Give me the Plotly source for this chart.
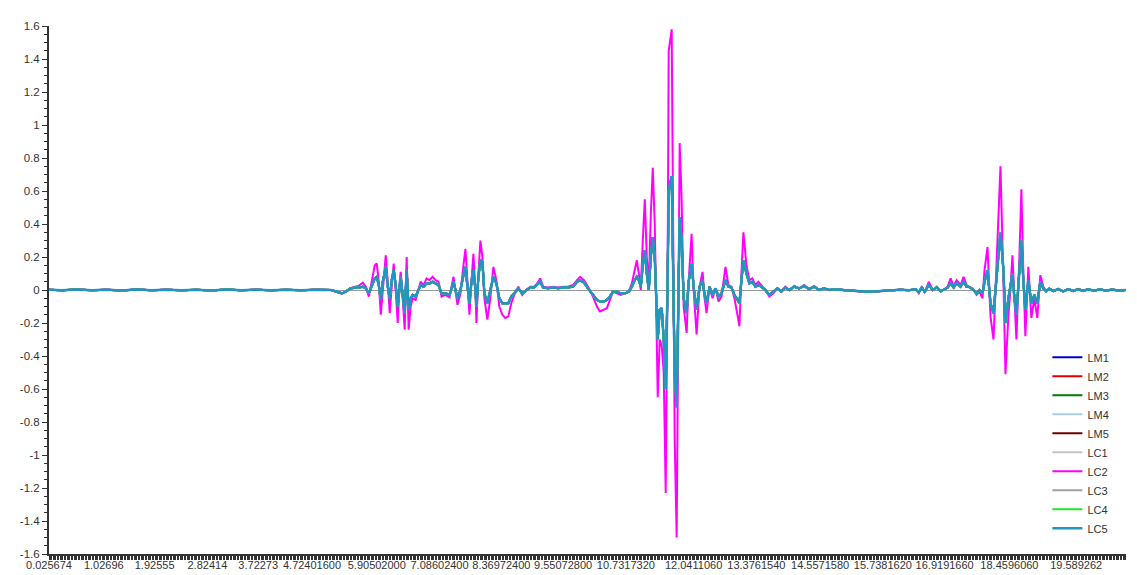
import plotly.graph_objects as go

# ---- data ----
# point position along the category axis (point number)
point = [0, 13, 28, 43, 58, 73, 88, 103, 118, 133, 148, 163, 178, 193, 208, 223, 238, 253, 268, 283,
         290, 294, 298, 302, 307, 311, 315, 318, 321, 324, 327, 329, 331, 333, 335, 338, 340, 342, 344, 346,
         348, 350, 352, 353, 355, 357, 359, 361, 363, 365, 368, 370, 373, 376, 379, 382, 385, 388, 391, 394,
         398, 402, 406, 410, 413, 416, 418, 420, 422, 424, 426, 428, 429, 431, 433, 435, 437, 440, 443, 446,
         449, 452, 455, 458, 461, 464, 467, 471, 475, 479, 483, 487, 490, 493, 496, 501, 506, 511, 516, 521,
         526, 530, 533, 537, 541, 546, 550, 553, 557, 560, 563, 566, 570, 574, 578, 582, 585, 588, 590, 592,
         594, 596, 598, 600, 602, 604, 606, 608, 610, 611, 613, 615, 617, 619, 621, 622, 625, 627, 628, 630,
         632, 633, 635, 637, 640, 642, 645, 647, 650, 653, 656, 658, 660, 663, 666, 669, 672, 675, 679, 682,
         685, 688, 691, 693, 695, 697, 700, 703, 706, 709, 712, 715, 719, 723, 727, 731, 735, 739, 743, 748,
         753, 758, 763, 768, 773, 778, 783, 791, 799, 807, 815, 823, 831, 839, 847, 855, 863, 870, 873, 876,
         879, 883, 887, 891, 895, 899, 902, 905, 908, 911, 915, 918, 921, 923, 927, 931, 934, 937, 939, 942,
         945, 948, 951, 953, 955, 958, 960, 963, 965, 967, 969, 971, 974, 976, 978, 980, 983, 986, 989, 992,
         995, 998, 1001, 1004, 1008, 1013, 1018, 1023, 1028, 1033, 1038, 1043, 1049, 1055, 1061, 1067, 1073, 1081]

LC2_values = [0.003, -0.003, 0.004, -0.002, 0.003, -0.003, 0.004, -0.002, 0.003, -0.003, 0.002, -0.003, 0.003, -0.002, 0.003, -0.003, 0.002, -0.002, 0.003, 0.0,
              -0.015, -0.022, -0.012, 0.01, 0.02, 0.025, 0.045, 0.02, -0.04, 0.05, 0.15, 0.16, 0.05, -0.15, 0.0, 0.21, 0.05, -0.14, 0.02, 0.16,
              0.0, -0.2, 0.05, 0.11, -0.05, -0.24, 0.2, -0.24, -0.1, -0.05, -0.06, -0.02, 0.05, 0.03, 0.07, 0.06, 0.08, 0.06, 0.05, -0.04,
              -0.03, -0.045, 0.08, -0.09, -0.02, 0.15, 0.25, 0.05, -0.15, 0.05, 0.22, 0.0, -0.2, 0.1, 0.3, 0.2, -0.05, -0.18, -0.05, 0.14,
              0.06, -0.1, -0.15, -0.17, -0.16, -0.08, -0.03, 0.02, -0.03, 0.0, 0.02, 0.02, 0.04, 0.07, 0.02, 0.015, 0.02, 0.015, 0.02, 0.02,
              0.03, 0.06, 0.08, 0.06, 0.02, -0.04, -0.1, -0.13, -0.12, -0.11, -0.06, -0.01, -0.02, -0.03, -0.02, -0.01, 0.04, 0.12, 0.18, 0.1,
              0.0, 0.3, 0.55, 0.2, 0.02, 0.45, 0.74, 0.4, -0.3, -0.65, -0.3, -0.34, -0.5, -1.23, 0.2, 1.45, 1.58, 0.1, -0.9, -1.5,
              0.0, 0.89, 0.55, -0.1, -0.26, 0.05, 0.34, 0.0, -0.27, 0.02, 0.11, -0.05, -0.14, 0.02, -0.05, 0.01, -0.07, -0.04, 0.14, 0.03,
              0.02, -0.05, -0.15, -0.22, 0.1, 0.35, 0.15, 0.06, 0.07, 0.03, 0.05, 0.03, 0.0, -0.04, -0.02, 0.01, -0.01, 0.02, 0.0, 0.025,
              0.01, 0.03, 0.005, 0.025, 0.0, 0.01, 0.0, 0.005, -0.002, -0.005, -0.01, -0.012, -0.01, -0.005, 0.0, 0.003, -0.002, 0.005, -0.02, 0.02,
              -0.015, 0.05, 0.0, 0.02, -0.01, 0.01, 0.02, 0.07, 0.02, 0.06, 0.03, 0.08, 0.03, 0.02, 0.01, -0.03, -0.01, -0.05, 0.12, 0.26,
              -0.16, -0.3, 0.12, 0.4, 0.75, 0.05, -0.51, -0.15, 0.0, 0.21, -0.1, -0.3, 0.2, 0.61, 0.1, -0.28, 0.14, -0.17, -0.05, -0.17,
              0.09, 0.02, -0.01, 0.01, -0.008, 0.008, -0.01, 0.006, -0.008, 0.006, -0.006, 0.005, -0.006, 0.005, -0.005, 0.004, -0.004, 0.0]

LC5_values = [0.002, -0.002, 0.003, -0.002, 0.002, -0.003, 0.003, -0.002, 0.002, -0.002, 0.002, -0.003, 0.003, -0.002, 0.002, -0.002, 0.002, -0.002, 0.002, 0.0,
              -0.012, -0.02, -0.01, 0.008, 0.015, 0.015, 0.02, 0.01, -0.02, 0.03, 0.07, 0.08, 0.03, -0.06, 0.05, 0.14, 0.02, -0.05, 0.06, 0.12,
              0.03, -0.1, 0.04, 0.08, -0.03, -0.14, 0.12, -0.12, -0.05, -0.03, -0.04, -0.01, 0.03, 0.02, 0.04, 0.04, 0.05, 0.04, 0.03, -0.02,
              -0.02, -0.03, 0.05, -0.05, 0.0, 0.09, 0.14, 0.02, -0.08, 0.05, 0.12, 0.0, -0.1, 0.08, 0.18, 0.17, -0.02, -0.08, 0.0, 0.08,
              0.04, -0.05, -0.08, -0.08, -0.08, -0.04, -0.02, 0.01, -0.02, 0.0, 0.015, 0.015, 0.03, 0.05, 0.015, 0.01, 0.015, 0.01, 0.015, 0.015,
              0.02, 0.05, 0.06, 0.045, 0.01, -0.03, -0.06, -0.07, -0.07, -0.06, -0.04, -0.01, -0.01, -0.02, -0.02, -0.01, 0.02, 0.06, 0.08, 0.06,
              0.02, 0.15, 0.24, 0.1, 0.0, 0.2, 0.32, 0.2, -0.15, -0.3, -0.12, -0.11, -0.3, -0.6, 0.1, 0.6, 0.69, 0.05, -0.5, -0.71,
              0.0, 0.44, 0.3, -0.05, -0.14, 0.05, 0.16, 0.02, -0.12, 0.02, 0.06, -0.03, -0.08, 0.02, -0.03, 0.01, -0.04, -0.02, 0.06, 0.02,
              0.015, -0.03, -0.06, -0.08, 0.06, 0.18, 0.1, 0.04, 0.05, 0.02, 0.03, 0.02, 0.0, -0.03, -0.01, 0.01, -0.01, 0.015, 0.0, 0.02,
              0.01, 0.025, 0.005, 0.02, 0.0, 0.01, 0.0, 0.005, -0.002, -0.005, -0.008, -0.01, -0.008, -0.004, 0.0, 0.002, -0.002, 0.004, -0.015, 0.015,
              -0.01, 0.03, 0.0, 0.015, -0.008, 0.008, 0.015, 0.04, 0.015, 0.04, 0.02, 0.05, 0.02, 0.02, 0.005, -0.02, 0.0, -0.02, 0.05, 0.12,
              -0.08, -0.14, 0.05, 0.2, 0.35, 0.12, -0.2, -0.05, 0.02, 0.1, -0.05, -0.15, 0.12, 0.3, 0.05, -0.12, 0.06, -0.08, -0.03, -0.08,
              0.05, 0.01, -0.008, 0.008, -0.006, 0.006, -0.008, 0.005, -0.006, 0.005, -0.005, 0.004, -0.005, 0.004, -0.004, 0.003, -0.003, 0.0]

# the remaining series lie under LC5 in the picture; their values are read as the same curve
LM_LC_values = LC5_values

series_names = ["LM1", "LM2", "LM3", "LM4", "LM5", "LC1", "LC2", "LC3", "LC4", "LC5"]
series_values = {
    "LM1": LM_LC_values, "LM2": LM_LC_values, "LM3": LM_LC_values, "LM4": LM_LC_values,
    "LM5": LM_LC_values, "LC1": LM_LC_values, "LC2": LC2_values, "LC3": LM_LC_values,
    "LC4": LM_LC_values, "LC5": LC5_values,
}

# x tick labels (time values) and the point numbers they sit on
x_tick_points = [0, 55, 106, 159, 210, 264, 329, 392, 454, 516, 579, 647, 710, 774, 837, 899, 964, 1031]
x_tick_labels = ["0.025674", "1.02696", "1.92555", "2.82414", "3.72273", "4.72401600", "5.90502000",
                 "7.08602400", "8.36972400", "9.55072800", "10.7317320", "12.0411060", "13.3761540",
                 "14.5571580", "15.7381620", "16.9191660", "18.4596060", "19.589262"]

y_tick_values = [1.6, 1.4, 1.2, 1.0, 0.8, 0.6, 0.4, 0.2, 0.0, -0.2, -0.4, -0.6, -0.8, -1.0, -1.2, -1.4, -1.6]
y_tick_labels = ["1.6", "1.4", "1.2", "1", "0.8", "0.6", "0.4", "0.2", "0", "-0.2", "-0.4", "-0.6",
                 "-0.8", "-1", "-1.2", "-1.4", "-1.6"]

# ---- styles ----
colors = {
    "LM1": "#0000D0", "LM2": "#E00000", "LM3": "#007A00", "LM4": "#A8CDEB", "LM5": "#6E0000",
    "LC1": "#C4C4C4", "LC2": "#FF00FF", "LC3": "#A0A0A0", "LC4": "#22E622", "LC5": "#2196C0",
}
widths = {name: 2 for name in series_names}
widths["LC5"] = 2.5

fig = go.Figure()
for name in series_names:
    fig.add_trace(go.Scatter(
        x=point, y=series_values[name], mode="lines", name=name,
        line=dict(color=colors[name], width=widths[name]),
    ))

axis_font = dict(family="Liberation Sans, Arial, sans-serif", size=11, color="#333333")
y_font = dict(family="Liberation Sans, Arial, sans-serif", size=11.5, color="#333333")

fig.update_layout(
    width=1137, height=575,
    margin=dict(l=37, r=19, t=17, b=19),
    paper_bgcolor="white", plot_bgcolor="white",
    showlegend=True,
    legend=dict(
        x=0.927, y=0.4, xanchor="left", yanchor="top",
        bgcolor="rgba(0,0,0,0)", font=axis_font, itemwidth=30,
        tracegroupgap=0,
    ),
    xaxis=dict(
        range=[0, 1081], showgrid=False, zeroline=False,
        showline=True, linecolor="#333333", linewidth=2,
        tickmode="array", tickvals=x_tick_points, ticktext=x_tick_labels,
        ticks="", tickfont=axis_font,
        minor=dict(tickmode="linear", tick0=0, dtick=1.4, ticks="outside",
                   ticklen=4, tickcolor="#333333", tickwidth=1, showgrid=False),
    ),
    yaxis=dict(
        range=[-1.6, 1.6], showgrid=False,
        zeroline=True, zerolinecolor="#9a9a9a", zerolinewidth=1,
        showline=True, linecolor="#333333", linewidth=2,
        tickmode="array", tickvals=y_tick_values, ticktext=y_tick_labels,
        ticks="outside", ticklen=5, tickcolor="#333333", tickfont=y_font,
        minor=dict(tickmode="linear", tick0=0, dtick=0.05, ticks="outside",
                   ticklen=3, tickcolor="#333333", showgrid=False),
    ),
)

fig.write_html("out.html")
